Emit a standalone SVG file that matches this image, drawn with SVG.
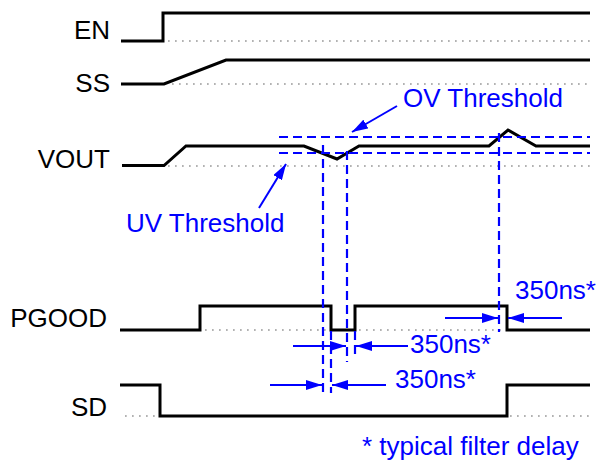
<svg xmlns="http://www.w3.org/2000/svg" width="598" height="464" viewBox="0 0 598 464">
<style>
.lbl{font-family:"Liberation Sans",Arial,sans-serif;font-size:26px;fill:#000}
.btx{font-family:"Liberation Sans",Arial,sans-serif;font-size:26px;fill:#0000ff}
.sig{fill:none;stroke:#000;stroke-width:3;stroke-linejoin:miter}
.dot{fill:none;stroke:#999;stroke-width:1.7;stroke-dasharray:1.7 5.3}
.dash{fill:none;stroke:#0000ff;stroke-width:2.2;stroke-dasharray:9 5}
.arr{fill:none;stroke:#0000ff;stroke-width:2;marker-end:url(#ah)}
</style>
<defs>
<marker id="ah" markerUnits="userSpaceOnUse" markerWidth="18" markerHeight="10" refX="16" refY="5" orient="auto">
<path d="M0,0 L16,5 L0,10 Z" fill="#0000ff"/>
</marker>
</defs>
<rect width="598" height="464" fill="#fff"/>
<g id="EN">
<text class="lbl" x="110" y="39" text-anchor="end">EN</text>
<path class="dot" d="M168,41 H590"/>
<path class="sig" d="M121,41 H163 V13 H590"/>
</g>
<g id="SS">
<text class="lbl" x="110" y="91.5" text-anchor="end">SS</text>
<path class="dot" d="M172,84 H590"/>
<path class="sig" d="M121,84 H164 L226,60 H590"/>
</g>
<g id="VOUT">
<text class="lbl" x="110" y="168" text-anchor="end">VOUT</text>
<path class="dot" d="M168,166 H590"/>
<path class="sig" d="M122,165.5 H164 L186,146 H304 L337,159 L359,146 H489 L508,130 L536,146 H590"/>
</g>
<g id="PGOOD">
<text class="lbl" x="107" y="327" text-anchor="end">PGOOD</text>
<path class="dot" d="M205,330 H590"/>
<path class="sig" d="M120,330 H200 V306 H331 V330 H355 V306 H507 V330 H590"/>
</g>
<g id="SD">
<text class="lbl" x="107" y="416" text-anchor="end">SD</text>
<path class="dot" d="M125,416 H158 M510,416 H590"/>
<path class="sig" d="M120,385 H160 V416 H507 V385 H590"/>
</g>
<g id="thresholds">
<path class="dash" d="M279,137 H590"/>
<path class="dash" d="M279,153 H590"/>
<text class="btx" x="403" y="107">OV Threshold</text>
<text class="btx" x="126" y="232">UV Threshold</text>
</g>
<g id="markers">
<path class="dash" d="M323,145 V393"/>
<path class="dash" d="M347,151 V362"/>
<path class="dash" d="M331,331 V393"/>
<path class="dash" d="M355,331 V358"/>
<path class="dash" d="M499,133 V332"/>
</g>
<g id="connectors">
<path class="arr" d="M397,106 L352,132"/>
<path class="arr" d="M259,208 L286,164"/>
<path class="arr" d="M445,318 H498"/>
<path class="arr" d="M562,318 H508"/>
<path class="arr" d="M293,346 H346"/>
<path class="arr" d="M408,346 H356"/>
<path class="arr" d="M270,385 H322"/>
<path class="arr" d="M386,385 H332"/>
</g>
<g id="delays">
<text class="btx" x="515" y="299">350ns*</text>
<text class="btx" x="410" y="353">350ns*</text>
<text class="btx" x="395" y="388">350ns*</text>
<text class="btx" x="362" y="455">* typical filter delay</text>
</g>
</svg>
